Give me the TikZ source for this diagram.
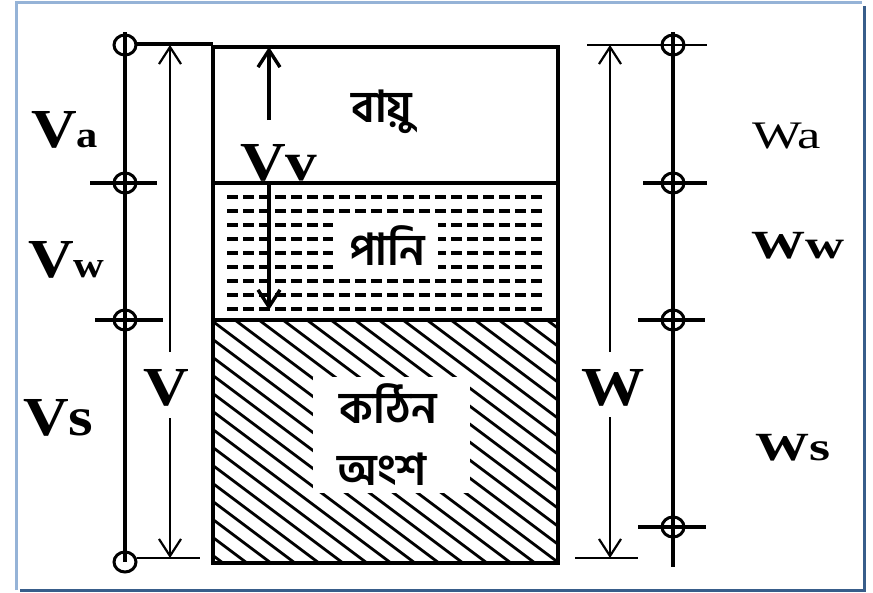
\documentclass[tikz,border=0pt]{standalone}
\usepackage{fontspec}
\setmainfont{Liberation Serif}
\newfontfamily\bn[Script=Bengali]{Hind Siliguri}
\newfontfamily\vfont[FakeStretch=1.15]{Liberation Serif}
\newfontfamily\wfont[FakeStretch=1.35]{Liberation Serif}
\usetikzlibrary{arrows.meta}
\definecolor{frameL}{HTML}{95B3D7}
\definecolor{frameD}{HTML}{385D8A}
\begin{document}
\begin{tikzpicture}[x=1pt,y=-1pt,
  heavy/.style={line width=3.4pt},
  dimline/.style={line width=2.2pt},
  tipup/.style={-{Straight Barb[length=17pt,width=22pt]}},
  markcirc/.style={line width=3pt},
  biglbl/.style={font=\vfont\fontsize{55}{60}\selectfont\bfseries, inner sep=0pt},
  midlbl/.style={font=\wfont\fontsize{40}{44}\selectfont\bfseries, inner sep=0pt},
  bnlbl/.style={font=\bn\fontsize{44}{50}\selectfont\bfseries, inner sep=0pt}]
\useasboundingbox (0,0) rectangle (873,592);
% frame
\draw[frameL, line width=3pt] (16,590) -- (16,2.5) -- (862,2.5);
\draw[frameD, line width=3pt] (864.5,6) -- (864.5,590.5) -- (20,590.5);
% box coordinates
\coordinate (tl) at (213,47);
\coordinate (br) at (558,563);
% solid hatching
\begin{scope}
\clip (213,320) rectangle (558,563);
\foreach \t in {-650,-626,...,345} \draw[line width=2.8pt] (213+\t,320) -- ++(700,525);
\end{scope}
\fill[white] (313,377) rectangle (470,493);
% water dashes
\foreach \yy in {197,211,...,309} \draw[line width=3.6pt, dash pattern=on 11pt off 5pt] (227,\yy) -- (547,\yy);
\fill[white] (333,217) rectangle (438,274);
% box
\draw[heavy] (tl) rectangle (br);
\draw[heavy] (213,183) -- (558,183);
\draw[heavy] (213,320) -- (558,320);
% Bengali labels
\node[bnlbl] (air) at (382,112) {বায়ু};
\node[bnlbl] (water) at (387,246) {পানি};
\node[bnlbl] (solid1) at (388,404) {কঠিন};
\node[bnlbl] (solid2) at (382,469) {অংশ};
% Vv
\node[biglbl, anchor=base west] (Vv) at (240,180) {Vv};
\draw[heavy, tipup] (269,120) -- (269,47);
\draw[heavy, tipup] (269,183) -- (269,310);
% left scale
\coordinate (L0) at (125,45);
\coordinate (L1) at (125,183);
\coordinate (L2) at (125,320);
\coordinate (L3) at (125,562);
\draw[heavy] (125,32) -- (L3);
\foreach \c in {L0,L1,L2,L3} \draw[markcirc] (\c) ellipse [x radius=11pt, y radius=10pt];
\draw[heavy] (90,183) -- (157,183);
\draw[heavy] (95,320) -- (163,320);
\draw[heavy] (137,44) -- (213,44);
\draw[dimline] (137,558) -- (200,558);
\node[biglbl, anchor=base west] (Va) at (31,147) {V{\fontsize{37}{40}\selectfont a}};
\node[biglbl, anchor=base west] (Vw) at (28,277) {V{\fontsize{37}{40}\selectfont w}};
\node[biglbl, anchor=base west] (Vs) at (23,435) {Vs};
% V dimension
\node[biglbl, anchor=base] (V) at (166,405) {V};
\draw[dimline, tipup] (170,352) -- (170,45);
\draw[dimline, tipup] (170,418) -- (170,558);
% right scale
\coordinate (R0) at (673,45);
\coordinate (R1) at (673,183);
\coordinate (R2) at (673,320);
\coordinate (R3) at (673,527);
\draw[heavy] (673,32) -- (673,567);
\foreach \c in {R0,R1,R2,R3} \draw[markcirc] (\c) ellipse [x radius=11pt, y radius=10pt];
\draw[line width=2.8pt] (587,45) -- (707,45);
\draw[heavy] (643,183) -- (707,183);
\draw[heavy] (638,320) -- (705,320);
\draw[heavy] (638,527) -- (706,527);
\draw[dimline] (575,558) -- (638,558);
% W dimension
\node[biglbl, anchor=base] (W) at (613,405) {W};
\draw[dimline, tipup] (610,352) -- (610,45);
\draw[dimline, tipup] (610,417) -- (610,558);
\node[midlbl, font=\wfont\fontsize{39}{44}\selectfont, anchor=base west] (Wa) at (752,148) {Wa};
\node[midlbl, anchor=base west] (Ww) at (751,258) {Ww};
\node[midlbl, anchor=base west] (Ws) at (755,460) {Ws};
\end{tikzpicture}
\end{document}
